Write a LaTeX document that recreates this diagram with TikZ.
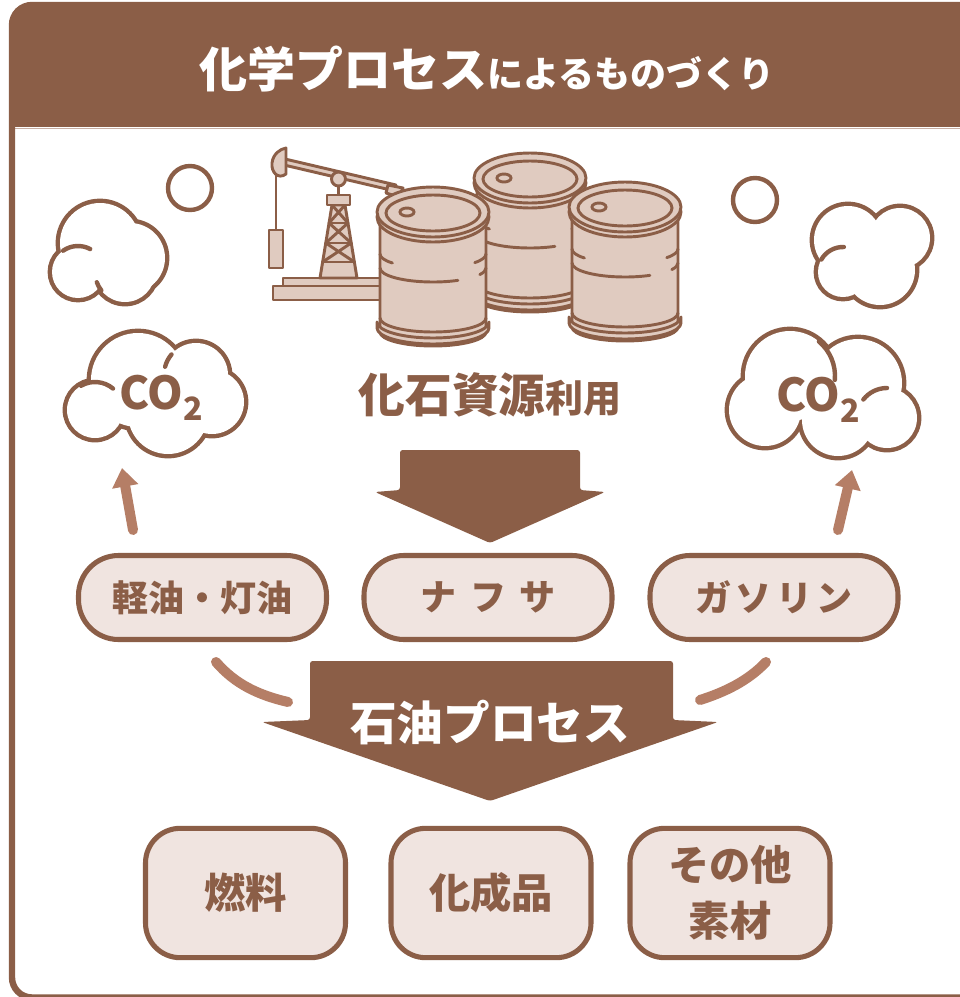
\documentclass[tikz,border=0pt]{standalone}
\usepackage{fontspec}
\setmainfont{Noto Sans CJK JP}
\usetikzlibrary{arrows.meta}

\definecolor{kogecha}{RGB}{139,94,71}
\definecolor{taru}{RGB}{224,203,192}
\definecolor{usuiro}{RGB}{240,228,224}
\definecolor{yajirushi}{RGB}{181,126,102}

\tikzset{
  jack/.style={draw=kogecha,fill=taru,line width=2.2pt,line join=round,line cap=round},
  jackline/.style={draw=kogecha,line width=2.2pt,line cap=round},
  cloudedge/.style={draw=kogecha,line width=6.6pt},
  cloudline/.style={draw=kogecha,line width=3.3pt,line cap=round},
  pill/.style={draw=kogecha,line width=3.8pt,fill=usuiro,rounded corners=30pt,
    minimum width=186pt,minimum height=63pt,text=kogecha,
    font=\bfseries\fontsize{27}{30}\selectfont},
  goods/.style={draw=kogecha,line width=3.8pt,fill=usuiro,rounded corners=26pt,
    minimum width=150pt,minimum height=97pt,text=kogecha,align=center,
    font=\bfseries\fontsize{31}{42}\selectfont},
  uparrow/.style={draw=yajirushi,line width=7.5pt,line cap=round,
    -{Triangle[length=14pt,width=19pt]}},
  bendline/.style={draw=yajirushi,line width=7.5pt,line cap=round},
  gas/.style={text=kogecha,font=\bfseries\fontsize{34}{36}\selectfont}
}

\begin{document}
\begin{tikzpicture}[x=0.75pt,y=0.75pt,yscale=-1,xscale=1]
\clip (0,0) rectangle (960,997);

%Shape: Frame with header band
\begin{scope}
\clip[rounded corners=15pt] (12,5) rectangle (995,997.5);
\fill[kogecha] (0,0) rectangle (995,127);
\end{scope}
\draw[usuiro!60!kogecha,line width=1pt] (14,128.3) -- (960,128.3);
\draw[kogecha,line width=4.8pt,rounded corners=15pt] (12,5) rectangle (995,997.5);

% Text Node
\node[text=white,font=\bfseries] (title) at (487,69)
  {{\fontsize{36}{40}\selectfont 化学プロセス}{\fontsize{27}{30}\selectfont によるものづくり}};

%Shape: Bubbles
\draw[cloudline] (190,188) circle[radius=22];
\draw[cloudline] (755,200) circle[radius=22];

%Shape: Cloud top left
\foreach \cx/\cy/\r in {100/243/40, 130/258/35, 78/272/26, 125/272/30}
  \draw[cloudedge] (\cx,\cy) circle[radius=\r];
\foreach \cx/\cy/\r in {100/243/40, 130/258/35, 78/272/26, 125/272/30}
  \fill[white] (\cx,\cy) circle[radius=\r];
\draw[cloudline] ([shift={(-125:26)}]78,272) arc[start angle=-125,end angle=-62,radius=26];
\draw[cloudline] ([shift={(-200:30)}]125,272) arc[start angle=-200,end angle=-218,radius=30];

%Shape: Cloud top right
\foreach \cx/\cy/\r in {848/240/34, 900/238/30, 880/270/35, 843/272/25}
  \draw[cloudedge] (\cx,\cy) circle[radius=\r];
\foreach \cx/\cy/\r in {848/240/34, 900/238/30, 880/270/35, 843/272/25}
  \fill[white] (\cx,\cy) circle[radius=\r];
\draw[cloudline] ([shift={(-150:25)}]843,272) arc[start angle=-150,end angle=-88,radius=25];

%Shape: Cloud left (CO2)
\foreach \cx/\cy/\r in {138/380/47, 196/375/32, 212/402/32, 168/414/40, 95/410/28}
  \draw[cloudedge] (\cx,\cy) circle[radius=\r];
\foreach \cx/\cy/\r in {138/380/47, 196/375/32, 212/402/32, 168/414/40, 95/410/28}
  \fill[white] (\cx,\cy) circle[radius=\r];
\draw[cloudline] ([shift={(-120:28)}]95,410) arc[start angle=-120,end angle=-50,radius=28];
\draw[cloudline] ([shift={(-140:32)}]196,375) arc[start angle=-140,end angle=-165,radius=32];

%Shape: Cloud right (CO2)
\foreach \cx/\cy/\r in {790/376/45, 858/383/44, 887/418/30, 838/420/36, 765/410/36}
  \draw[cloudedge] (\cx,\cy) circle[radius=\r];
\foreach \cx/\cy/\r in {790/376/45, 858/383/44, 887/418/30, 838/420/36, 765/410/36}
  \fill[white] (\cx,\cy) circle[radius=\r];
\draw[cloudline] ([shift={(-50:45)}]790,376) arc[start angle=-50,end angle=5,radius=45];
\draw[cloudline] ([shift={(-90:30)}]887,418) arc[start angle=-90,end angle=-142,radius=30];

% Text Node
\node[gas] (co2l) at (161,398) {CO\raisebox{-8pt}{\fontsize{24}{26}\selectfont 2}};
% Text Node
\node[gas] (co2r) at (818,400) {CO\raisebox{-8pt}{\fontsize{24}{26}\selectfont 2}};

%Shape: Pump jack
\filldraw[jack] (273,286) rectangle (385,300);
\filldraw[jack] (283,278) rectangle (385,286);
\filldraw[jack] (320,278) -- (332,205) -- (345,205) -- (357,278) -- cycle;
\draw[jackline] (322.6,262) -- (354.4,262) (325.8,243) -- (351.2,243) (329,223) -- (348,223);
\draw[jackline] (322.6,262) -- (351.2,243) (354.4,262) -- (325.8,243)
  (325.8,243) -- (348,223) (351.2,243) -- (329,223)
  (329,223) -- (345,205) (348,223) -- (332,205);
\draw[jackline] (338.5,195) -- (338.5,184);
\filldraw[jack] (327,195) rectangle (350,205);
\filldraw[jack] (285,159) -- (396,185) -- (395,191) -- (284,165) -- cycle;
\filldraw[jack] (388,185) -- (403,188) -- (399,197) -- (386,193) -- cycle;
\filldraw[jack] (338.5,179) circle[radius=7];
\draw[jackline] (276,176) -- (276,230);
\filldraw[jack] (286,148) -- (286,174) .. controls (278,180) and (271,172) .. (272,163)
  .. controls (273,154) and (280,149) .. (286,148) -- cycle;
\filldraw[jack] (269,230) rectangle (283,268);

%Shape: Drums
\foreach \bx/\by in {530/178, 433/212, 625/207}{
\begin{scope}[shift={(\bx,\by)}]
\filldraw[jack] (-53,0) -- (-53,120) arc[start angle=180,end angle=0,x radius=53,y radius=14] -- (53,0) -- cycle;
\filldraw[jack] (-56,110) -- (-56,116) arc[start angle=180,end angle=0,x radius=56,y radius=16] -- (56,110)
  arc[start angle=0,end angle=180,x radius=56,y radius=16] -- cycle;
\draw[jackline] (-53,106) arc[start angle=180,end angle=0,x radius=53,y radius=14];
\draw[jackline] ([shift={(180:53 and 14)}]0,42) arc[start angle=180,end angle=140,x radius=53,y radius=14];
\draw[jackline] ([shift={(38:53 and 14)}]0,42) arc[start angle=38,end angle=0,x radius=53,y radius=14];
\draw[jackline] ([shift={(180:53 and 14)}]0,56) arc[start angle=180,end angle=62,x radius=53,y radius=14];
\draw[jackline] ([shift={(28:53 and 14)}]0,56) arc[start angle=28,end angle=0,x radius=53,y radius=14];
\filldraw[jack] (0,5) ellipse[x radius=56,y radius=25];
\filldraw[jack] (0,0) ellipse[x radius=56,y radius=25];
\draw[jackline] (0,1) ellipse[x radius=47,y radius=18];
\draw[jackline] (-26,0) ellipse[x radius=7,y radius=4];
\end{scope}}

% Text Node
\node[text=kogecha,font=\bfseries] (fossil) at (490,395)
  {{\fontsize{35}{38}\selectfont 化石資源}{\fontsize{28.5}{30}\selectfont 利用}};

%Shape: Arrow down
\fill[kogecha,rounded corners=2pt] (400,450) -- (580,450) -- (580,490) -- (605,492)
  -- (490,543) -- (375,492) -- (400,490) -- cycle;

% Pills
\node[pill] (kerosene) at (202.5,597.5) {軽油・灯油};
\node[pill] (naphtha) at (488,597.5) {ナ\kern0.38em フ\kern0.38em サ};
\node[pill] (gasoline) at (774,597.5) {ガ\kern0.12em ソ\kern0.12em リ\kern0.12em ン};

% Arrows up to clouds
\coordinate (lup0) at (133,530);
\coordinate (lup1) at (122,468);
\coordinate (rup0) at (838,530);
\coordinate (rup1) at (852,470);
\draw[uparrow] (lup0) -- (lup1);
\draw[uparrow] (rup0) -- (rup1);

%Shape: Big arrow
\fill[kogecha,rounded corners=2pt] (310,661) -- (673,661) -- (673,720) -- (718,722)
  -- (490,801) -- (262,722) -- (310,720) -- cycle;
% Text Node
\node[text=white,font=\bfseries\fontsize{35}{38}\selectfont] (petro) at (490,722) {石油プロセス};

% Curves into the big arrow
\coordinate (lcur0) at (216,662);
\coordinate (lcur1) at (288,702);
\coordinate (rcur0) at (766,662);
\coordinate (rcur1) at (700,700);
\draw[bendline] (lcur0) .. controls (235,684) and (258,695) .. (lcur1);
\draw[bendline] (rcur0) .. controls (748,681) and (725,692) .. (rcur1);

% Products
\node[goods] (fuel) at (245.5,893) {燃料};
\node[goods] (chem) at (491,893) {化成品};
\node[goods] (other) at (730,893) {その他\\素材};

\end{tikzpicture}
\end{document}
